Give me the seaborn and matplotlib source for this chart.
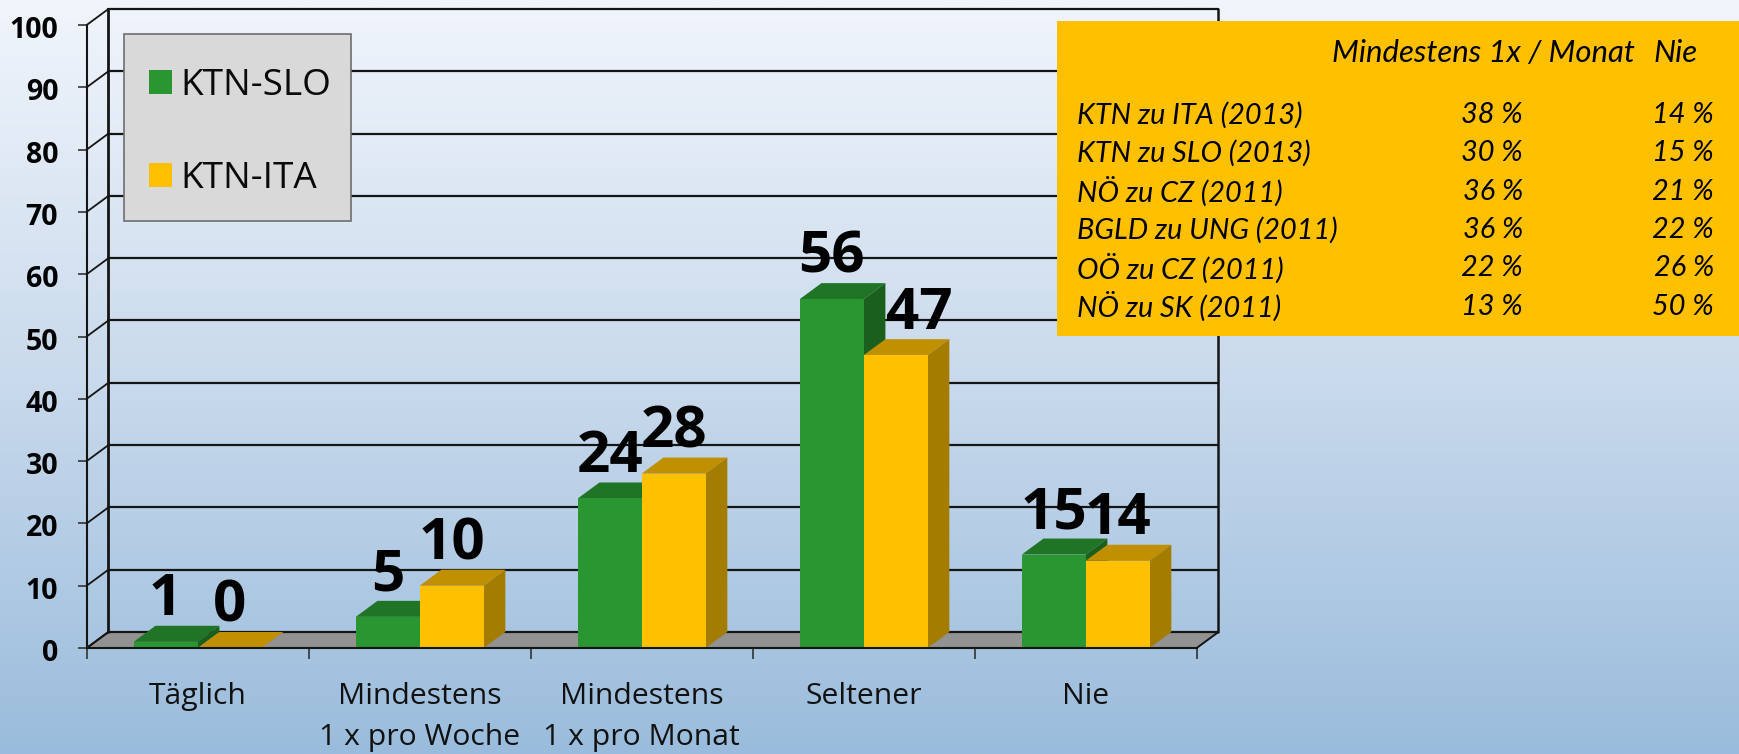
import numpy as np
import pandas as pd
import matplotlib
matplotlib.use("Agg")
import matplotlib.pyplot as plt
from matplotlib.patches import Polygon, Rectangle
from matplotlib.transforms import ScaledTranslation
import seaborn as sns

# data
categories = ["Täglich", "Mindestens\n1 x pro Woche", "Mindestens\n1 x pro Monat", "Seltener", "Nie"]
ktn_slo = [1, 5, 24, 56, 15]
ktn_ita = [0, 10, 28, 47, 14]
series_names = ["KTN-SLO", "KTN-ITA"]

table_header = ["Mindestens 1x / Monat", "Nie"]
table_rows = ["KTN zu ITA (2013)", "KTN zu SLO (2013)", "NÖ zu CZ (2011)",
              "BGLD zu UNG (2011)", "OÖ zu CZ (2011)", "NÖ zu SK (2011)"]
table_monat = [38, 30, 36, 36, 22, 13]
table_nie = [14, 15, 21, 22, 26, 50]

W, H = 1739, 754
GREEN, YELLOW = "#2A9632", "#FFC000"
GREEN_TOP, GREEN_SIDE = "#1F7426", "#1A5F1E"
YELLOW_TOP, YELLOW_SIDE = "#C09000", "#A47C00"
LINE = "#151515"

sns.set_style("white")
plt.rcParams["font.family"] = ["Open Sans", "DejaVu Sans"]

df = pd.DataFrame({
    "cat": categories * 2,
    "val": ktn_slo + ktn_ita,
    "serie": [series_names[0]] * 5 + [series_names[1]] * 5,
})

fig = plt.figure(figsize=(W / 100, H / 100), dpi=100)

# background gradient
bg = fig.add_axes([0, 0, 1, 1], zorder=-1)
grad = np.linspace(0, 1, 256).reshape(-1, 1)
cmap = matplotlib.colors.LinearSegmentedColormap.from_list("bg", ["#F1F5FC", "#C9DAEC", "#9ABCDC"])
bg.imshow(grad, aspect="auto", cmap=cmap)
bg.axis("off")

# front plane of the chart in pixels: x 86.7-1196.7, y 648-25
ax = fig.add_axes([86.7 / W, 1 - 648 / H, 1110 / W, 623 / H])
ax.patch.set_alpha(0)

sns.barplot(data=df, x="cat", y="val", hue="serie", order=categories, hue_order=series_names,
            palette={series_names[0]: GREEN, series_names[1]: YELLOW},
            saturation=1, width=0.576, linewidth=0, ax=ax)

ax.set_xlim(-0.5, 4.5)
ax.set_ylim(0, 100)
ax.set_xlabel("")
ax.set_ylabel("")

# depth of the fake 3d box, in data units
dx = 21.7 / 222
dy = 16 / 6.23

# floor
ax.add_patch(Polygon([(-0.5, 0), (4.5, 0), (4.5 + dx, dy), (-0.5 + dx, dy)], closed=True,
                     facecolor="#929292", edgecolor=LINE, lw=1.4, zorder=0.5, clip_on=False))

# back wall grid + left wall diagonals
yticks = list(range(0, 101, 10))
for y in yticks:
    ax.plot([-0.5 + dx, 4.5 + dx], [y + dy, y + dy], color=LINE, lw=1.6, zorder=0.6, clip_on=False)
    ax.plot([-0.5, -0.5 + dx], [y, y + dy], color=LINE, lw=1.3, zorder=0.6, clip_on=False)
ax.plot([-0.5 + dx, -0.5 + dx], [dy, 100 + dy], color=LINE, lw=2.0, zorder=0.7, clip_on=False)
ax.plot([4.5 + dx, 4.5 + dx], [dy, 100 + dy], color=LINE, lw=1.8, zorder=0.7, clip_on=False)

# 3d sides for the bars
faces = [(GREEN_TOP, GREEN_SIDE), (YELLOW_TOP, YELLOW_SIDE)]
for s, cont in enumerate(ax.containers):
    for bar in cont:
        x0, w, h = bar.get_x(), bar.get_width(), bar.get_height()
        z = 2 + s
        bar.set_zorder(z + 0.2)
        ax.add_patch(Polygon([(x0, h), (x0 + w, h), (x0 + w + dx, h + dy), (x0 + dx, h + dy)],
                             closed=True, facecolor=faces[s][0], lw=0, zorder=z, clip_on=False))
        ax.add_patch(Polygon([(x0 + w, 0), (x0 + w + dx, dy), (x0 + w + dx, h + dy), (x0 + w, h)],
                             closed=True, facecolor=faces[s][1], lw=0, zorder=z + 0.1, clip_on=False))
    labels = ax.bar_label(cont, fmt="%d", padding=9, fontsize=42, fontweight="bold", color="black",
                          zorder=10, annotation_clip=False)
    for lab in labels:
        # the 47 sits off to the right of its bar in the original
        if lab.get_text() == "47":
            lab.xyann = (17, 9)

# axes styling
for side in ["top", "right"]:
    ax.spines[side].set_visible(False)
for side in ["left", "bottom"]:
    ax.spines[side].set_color(LINE)
    ax.spines[side].set_linewidth(1.5)
    ax.spines[side].set_zorder(5)
ax.set_yticks(yticks)
ax.set_yticklabels(yticks, fontsize=20.5, fontweight="bold", color="black")
ax.tick_params(axis="y", left=True, length=6.5, width=1.2, color="#333333", pad=14)
shift = ScaledTranslation(0, -2 / 100, fig.dpi_scale_trans)
for lab in ax.get_yticklabels():
    lab.set_transform(lab.get_transform() + shift)
ax.set_xticks(range(5))
ax.set_xticklabels(categories, fontsize=21.7, color="#111111", linespacing=1.55, va="top")
ax.set_xticks(np.arange(-0.5, 5, 1), minor=True)
ax.tick_params(axis="x", which="major", bottom=False, pad=21)
ax.tick_params(axis="x", which="minor", bottom=True, length=8, width=1.2, color="#333333")

# legend: box drawn separately, its inner padding is not even
sns.move_legend(ax, "center left", bbox_to_anchor=(149 / W, 1 - 132.5 / H), bbox_transform=fig.transFigure,
                title=None, frameon=False, fontsize=26.6, handlelength=0.625, handleheight=0.625,
                handletextpad=0.22, labelspacing=1.52, borderpad=0, borderaxespad=0, labelcolor="#0A0A0A")
ax.get_legend().set_zorder(21)
ax.add_patch(Rectangle((124 / W, 1 - 221 / H), 227 / W, 187 / H, transform=fig.transFigure,
                       facecolor="#D9D9D9", edgecolor="#6E6E6E", lw=1.2, zorder=20, clip_on=False))

# info table, coordinates in pixels of the figure
tab = fig.add_axes([1057 / W, 1 - 336 / H, (W - 1057) / W, 315 / H], zorder=5)
tab.set_xlim(1057, W)
tab.set_ylim(336, 21)
tab.set_facecolor(YELLOW)
tab.set_xticks([])
tab.set_yticks([])
for sp in tab.spines.values():
    sp.set_visible(False)
font = dict(family=["Lato", "DejaVu Sans"], style="italic", fontsize=20.8, color="black", va="center")
tab.text(1635, 53, table_header[0], ha="right", **{**font, "fontsize": 22.4})
tab.text(1653, 53, table_header[1], ha="left", **{**font, "fontsize": 22.4})
for i, name in enumerate(table_rows):
    y = 115 + i * 38.3
    tab.text(1077, y, name, ha="left", **font)
    tab.text(1523, y, f"{table_monat[i]} %", ha="right", **font)
    tab.text(1714, y, f"{table_nie[i]} %", ha="right", **font)

fig.savefig("out.png", dpi=100)
